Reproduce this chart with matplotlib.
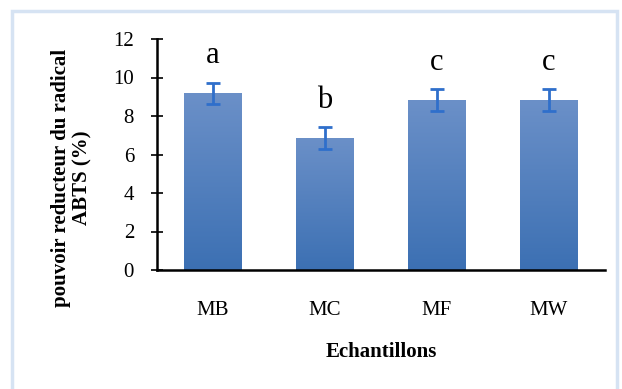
import matplotlib
matplotlib.use("Agg")
import matplotlib.pyplot as plt
import numpy as np
from matplotlib.colors import LinearSegmentedColormap
from matplotlib.patches import Rectangle

categories = ["MB", "MC", "MF", "MW"]
values = [9.18, 6.86, 8.83, 8.83]
errors = [0.56, 0.55, 0.55, 0.55]
letters = ["a", "b", "c", "c"]
yticks = [0, 2, 4, 6, 8, 10, 12]

plt.rcParams['font.family'] = ['Liberation Serif', 'DejaVu Serif']

fig = plt.figure(figsize=(6.22, 3.89), dpi=100)
fig.patches.append(Rectangle((12/622, -0.05), (617-12)/622, 1.05 - 11/389,
                             transform=fig.transFigure, fill=False,
                             edgecolor='#d6e3f3', linewidth=2.5))
ax = fig.add_axes([157/622, 1-270/389, (605-157)/622, (270-39)/389])

x = np.arange(len(categories))
bars = ax.bar(x, values, width=0.51, color='none', edgecolor='none', zorder=2)
cmap = LinearSegmentedColormap.from_list('g', ['#3c70b3', '#6b90c8'])
grad = np.linspace(0, 1, 256).reshape(-1, 1)
for b in bars:
    x0, y0 = b.get_x(), b.get_y()
    w, h = b.get_width(), b.get_height()
    im = ax.imshow(grad, cmap=cmap, origin='lower', aspect='auto',
                   extent=[x0, x0 + w, y0, y0 + h], zorder=2)
    im.set_clip_path(b)

ax.errorbar(x, values, yerr=errors, fmt='none', ecolor='#2f6fcb',
            elinewidth=2, capsize=5, capthick=2, zorder=3)

for xi, v, e, t in zip(x, values, errors, letters):
    ax.text(xi, v + e + 1.0, t, ha='center', va='baseline', fontsize=22)

ax.set_xlim(-0.5, 3.5)
ax.set_ylim(0, 12)
ax.set_yticks(yticks)
ax.set_xticks(x)
ax.set_xticklabels(categories)
ax.spines['top'].set_visible(False)
ax.spines['right'].set_visible(False)
ax.spines['left'].set_linewidth(1.8)
ax.spines['bottom'].set_linewidth(1.8)
ax.tick_params(axis='y', direction='inout', length=9, width=1.2, labelsize=15, pad=12)
ax.tick_params(axis='x', length=0, labelsize=15, pad=22)

ax.text(-0.191, 0.398, "pouvoir reducteur du radical\nABTS (%)", transform=ax.transAxes,
        rotation=90, ha='center', va='center', multialignment='center',
        fontsize=15, fontweight='bold', linespacing=1.1)
ax.set_xlabel("Echantillons", fontsize=15, fontweight='bold', labelpad=16)

fig.savefig("out.png", dpi=100)
